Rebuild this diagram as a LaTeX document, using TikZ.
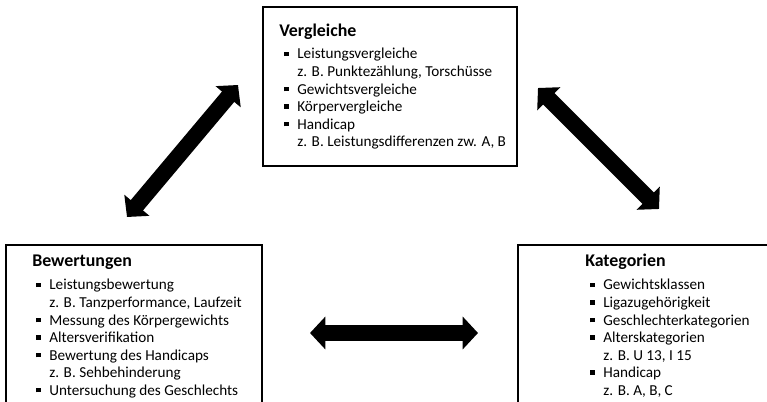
\documentclass[tikz,border=0pt]{standalone}
\usepackage{fontspec}
\setmainfont{Carlito}
\usetikzlibrary{positioning,arrows.meta}
\tikzstyle{slide} = [x=0.75pt, y=-0.75pt]
\tikzstyle{boxStyle} = [color=black, line width=1pt]
\tikzstyle{titleText} = [font=\fontsize{13.4}{15}\selectfont\bfseries, anchor=base west, inner sep=0pt]
\tikzstyle{listText} = [font=\fontsize{11.4}{13.15}\selectfont, anchor=base west, inner sep=0pt]
\tikzstyle{bigArrow} = [line width=12pt, {Triangle[width=24pt,length=11.5pt]}-{Triangle[width=24pt,length=11.5pt]}]
\newcommand{\bulletSign}{\makebox[9.8pt][l]{\rule[2.1pt]{3.3pt}{3.3pt}}}
\newcommand{\noBullet}{\makebox[9.8pt][l]{}}
\newcommand{\itemList}[1]{\begin{tabular}[t]{@{}l@{}}#1\end{tabular}}

\begin{document}
\begin{tikzpicture}[slide]
  \useasboundingbox (0,0) rectangle (767,402);
  \clip (0,0) rectangle (767,402);

  % boxes
  \draw [boxStyle] (263,7) rectangle (517,166);
  \draw [boxStyle] (6,245) rectangle (262,430);
  \draw [boxStyle] (518,245) rectangle (800,430);

  % Vergleiche
  \node [titleText] (vergleicheTitle) at (279,37) {Vergleiche};
  \node [listText] (vergleicheList) at (284,59) {\itemList{
    \bulletSign Leistungsvergleiche\\
    \noBullet z. B. Punktezählung, Torschüsse\\
    \bulletSign Gewichtsvergleiche\\
    \bulletSign Körpervergleiche\\
    \bulletSign Handicap\\
    \noBullet z. B. Leistungsdifferenzen zw. A, B}};

  % Bewertungen
  \node [titleText] (bewertungenTitle) at (32,267) {Bewertungen};
  \node [listText] (bewertungenList) at (36,290) {\itemList{
    \bulletSign Leistungsbewertung\\
    \noBullet z. B. Tanzperformance, Laufzeit\\
    \bulletSign Messung des Körpergewichts\\
    \bulletSign Altersverifikation\\
    \bulletSign Bewertung des Handicaps\\
    \noBullet z. B. Sehbehinderung\\
    \bulletSign Untersuchung des Geschlechts}};

  % Kategorien
  \node [titleText] (kategorienTitle) at (585,267) {Kategorien};
  \node [listText] (kategorienList) at (590,290) {\itemList{
    \bulletSign Gewichtsklassen\\
    \bulletSign Ligazugehörigkeit\\
    \bulletSign Geschlechterkategorien\\
    \bulletSign Alterskategorien\\
    \noBullet z. B. U 13, I 15\\
    \bulletSign Handicap\\
    \noBullet z. B. A, B, C}};

  % arrows
  \coordinate (leftLow) at (127,217);
  \coordinate (leftHigh) at (238,85);
  \coordinate (rightHigh) at (538,88);
  \coordinate (rightLow) at (659,209);
  \coordinate (midLeft) at (310,333);
  \coordinate (midRight) at (478,333);
  \draw [bigArrow] (leftLow) -- (leftHigh);
  \draw [bigArrow] (rightHigh) -- (rightLow);
  \draw [bigArrow] (midLeft) -- (midRight);
\end{tikzpicture}
\end{document}
